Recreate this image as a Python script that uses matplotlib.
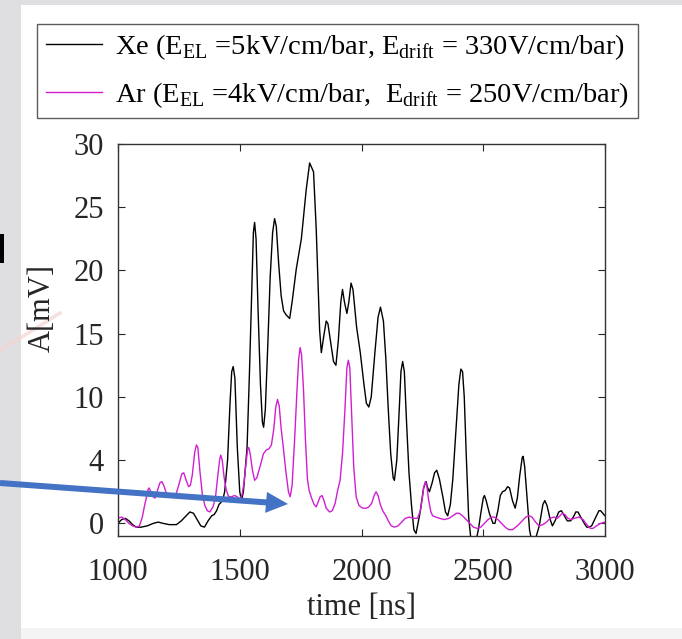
import matplotlib
matplotlib.use("Agg")
import matplotlib.pyplot as plt
from matplotlib.patches import Rectangle, FancyArrow
from matplotlib.lines import Line2D

plt.rcParams['font.family'] = ['Liberation Serif', 'DejaVu Serif']
plt.rcParams['mathtext.fontset'] = 'custom'
plt.rcParams['mathtext.rm'] = 'Liberation Serif'

# ---------------- data ----------------
xe_t = [1000, 1015, 1030, 1045, 1060, 1075, 1095, 1120, 1145, 1165, 1185, 1210, 1240, 1260,
        1280, 1295, 1310, 1325, 1340, 1355, 1370, 1385, 1395, 1405, 1415, 1425, 1432, 1438,
        1450, 1460, 1467, 1473, 1480, 1490, 1500, 1507, 1515, 1530, 1540, 1550, 1556, 1561,
        1567, 1575, 1585, 1593, 1598, 1605, 1615, 1625, 1635, 1643, 1650, 1660, 1670, 1680,
        1690, 1705, 1715, 1732, 1753, 1773, 1787, 1803, 1814, 1828, 1835, 1845, 1855, 1862,
        1872, 1885, 1895, 1905, 1915, 1922, 1930, 1940, 1948, 1957, 1965, 1980, 1995, 2010,
        2020, 2030, 2040, 2055, 2068, 2078, 2090, 2100, 2110, 2120, 2130, 2135, 2145, 2155,
        2162, 2169, 2176, 2185, 2195, 2205, 2215, 2224, 2240, 2255, 2265, 2272, 2279, 2290,
        2300, 2309, 2320, 2335, 2345, 2354, 2365, 2375, 2390, 2400, 2408, 2415, 2422, 2430,
        2440, 2449, 2460, 2470, 2480, 2490, 2500, 2505, 2512, 2525, 2540, 2548, 2560, 2570,
        2579, 2590, 2600, 2608, 2620, 2631, 2640, 2650, 2660, 2664, 2670, 2680, 2690, 2700,
        2715, 2730, 2745, 2753, 2762, 2775, 2784, 2795, 2810, 2821, 2830, 2845, 2859, 2870,
        2880, 2889, 2900, 2915, 2925, 2934, 2945, 2960, 2975, 2982, 2995, 3000]
xe_v = [0.0, 0.3, 0.4, 0.2, -0.1, -0.3, -0.3, -0.2, 0.0, 0.1, 0.0, -0.1, -0.1, 0.2,
        0.6, 0.9, 0.8, 0.3, -0.2, -0.3, 0.2, 0.6, 0.7, 1.0, 1.5, 1.7, 2.0, 2.5,
        5.0, 9.5, 12.0, 12.4, 11.5, 6.0, 2.5, 1.8, 2.5, 6.0, 12.0, 19.0, 23.0, 23.8,
        22.5, 17.0, 11.0, 8.0, 7.6, 9.0, 14.0, 19.5, 23.0, 24.1, 23.5, 20.5, 18.0, 16.8,
        16.5, 16.2, 17.5, 20.1, 22.5, 26.4, 28.5, 27.8, 23.3, 15.3, 13.5, 14.8, 16.0, 15.8,
        14.5, 12.8, 12.5, 14.5, 17.5, 18.5, 17.5, 16.6, 17.5, 19.0, 18.5, 15.5, 13.5, 11.0,
        9.5, 9.2, 10.0, 13.5, 16.3, 17.1, 16.0, 13.0, 9.0, 5.5, 3.6, 3.4, 5.0, 9.0,
        12.0, 12.8, 12.0, 8.0, 4.0, 1.5, -0.5, -0.8, 0.8, 2.8, 3.3, 2.8, 2.5, 3.2,
        4.0, 4.2, 3.5, 2.0, 0.9, 0.6, 1.5, 3.5, 8.0, 11.0, 12.2, 12.0, 10.0, 5.5,
        0.5, -1.2, -1.6, -1.4, -0.5, 0.8, 2.0, 2.2, 1.8, 0.8, 0.0, 0.0, 1.0, 2.2,
        2.5, 2.6, 2.9, 2.8, 1.8, 1.2, 2.0, 3.8, 5.2, 5.3, 4.5, 2.0, -0.5, -1.5,
        -1.2, -0.2, 1.5, 1.8, 1.4, 0.3, -0.2, 0.2, 0.9, 1.0, 0.7, 0.2, 0.2, 0.5,
        0.9, 0.9, 0.5, 0.0, -0.3, -0.3, -0.2, 0.4, 1.0, 1.0, 0.7, 0.6]

ar_t = [1000, 1015, 1030, 1045, 1060, 1075, 1088, 1100, 1108, 1117, 1124, 1128, 1135, 1145,
        1152, 1162, 1172, 1180, 1188, 1200, 1213, 1225, 1240, 1252, 1262, 1270, 1280, 1290,
        1297, 1305, 1315, 1322, 1328, 1337, 1347, 1357, 1367, 1377, 1390, 1400, 1410, 1418,
        1422, 1428, 1436, 1445, 1455, 1465, 1479, 1490, 1500, 1510, 1518, 1526, 1532, 1537,
        1543, 1552, 1561, 1570, 1585, 1597, 1609, 1620, 1630, 1640, 1648, 1655, 1662, 1670,
        1680, 1690, 1700, 1707, 1715, 1725, 1735, 1742, 1748, 1754, 1762, 1770, 1778, 1785,
        1795, 1805, 1814, 1822, 1830, 1838, 1846, 1855, 1869, 1880, 1892, 1902, 1912, 1922,
        1932, 1940, 1946, 1952, 1960, 1968, 1978, 1990, 2005, 2020, 2030, 2042, 2052, 2060,
        2068, 2077, 2087, 2100, 2110, 2122, 2135, 2150, 2165, 2180, 2197, 2212, 2230, 2242,
        2250, 2256, 2262, 2268, 2276, 2285, 2292, 2305, 2320, 2340, 2360, 2375, 2390, 2401,
        2415, 2430, 2445, 2460, 2475, 2490, 2505, 2520, 2535, 2545, 2560, 2575, 2590, 2605,
        2620, 2640, 2660, 2675, 2688, 2700, 2715, 2729, 2745, 2760, 2775, 2791, 2805, 2815,
        2825, 2835, 2848, 2860, 2875, 2893, 2910, 2925, 2940, 2950, 2965, 2982, 3000]
ar_v = [0.4, 0.5, 0.3, 0.0, -0.2, -0.3, -0.2, 0.5, 1.3, 2.1, 2.7, 2.8, 2.5, 2.1,
        2.0, 2.6, 3.2, 3.3, 3.0, 2.3, 2.1, 2.2, 2.4, 3.2, 3.9, 4.0, 3.4, 2.9,
        3.0, 3.8, 5.6, 6.2, 6.0, 4.0, 2.2, 1.4, 1.0, 0.9, 1.3, 2.0, 3.8, 5.1,
        5.4, 5.0, 3.6, 2.6, 2.1, 2.1, 2.2, 2.1, 1.9, 2.3, 3.3, 4.8, 5.8, 6.0,
        5.5, 4.2, 3.4, 3.6, 4.6, 5.5, 5.8, 5.9, 6.2, 7.5, 9.2, 9.8, 9.3, 7.5,
        5.8, 4.0, 2.5, 2.1, 3.0, 6.5, 10.5, 13.0, 13.9, 13.3, 10.5, 6.5, 3.5, 2.6,
        2.0, 1.5, 1.3, 1.7, 2.1, 2.2, 1.8, 1.2, 0.9, 1.0, 1.6, 2.6, 3.4, 5.5,
        9.0, 12.3, 12.9, 12.3, 8.5, 4.5, 2.1, 1.4, 1.2, 1.2, 1.3, 1.6, 2.2, 2.5,
        2.2, 1.5, 1.0, 0.6, 0.2, -0.2, -0.3, -0.2, 0.1, 0.4, 0.5, 0.4, 0.4, 1.0,
        2.0, 2.9, 3.3, 3.0, 1.8, 0.9, 0.6, 0.5, 0.4, 0.3, 0.4, 0.6, 0.8, 0.8,
        0.6, 0.3, 0.0, -0.3, -0.4, -0.3, 0.0, 0.3, 0.5, 0.5, 0.3, 0.0, -0.3, -0.5,
        -0.5, -0.2, 0.2, 0.5, 0.6, 0.5, 0.1, -0.2, -0.1, 0.1, 0.4, 0.5, 0.4, 0.6,
        0.8, 0.7, 0.4, 0.3, 0.4, 0.5, 0.3, -0.1, -0.4, -0.4, -0.2, 0.0, 0.1]

xticks = [1000, 1500, 2000, 2500, 3000]
yticks = [0, 5, 10, 15, 20, 25, 30]
ytick_labels = ['0', '4', '10', '15', '20', '25', '30']
xe_label = r'Xe (E$_{\mathrm{EL}}$ =5kV/cm/bar, E$_{\mathrm{drift}}$ = 330V/cm/bar)'
ar_label = r'Ar (E$_{\mathrm{EL}}$ =4kV/cm/bar,  E$_{\mathrm{drift}}$ = 250V/cm/bar)'

# ---------------- figure ----------------
W, H = 682, 639
fig = plt.figure(figsize=(W / 100, H / 100), dpi=100)
fig.patch.set_facecolor('#dfdfe1')

def px(x, y):
    return x / W, 1 - y / H

# white slide panel (behind everything)
fig.patches.append(Rectangle(px(21, 628), (W - 21) / W, (628 - 5) / H,
                             transform=fig.transFigure, facecolor='white',
                             edgecolor='none', zorder=-10))
fig.patches.append(Rectangle(px(21, H), (W - 21) / W, (H - 628) / H,
                             transform=fig.transFigure, facecolor='#f4f4f5',
                             edgecolor='none', zorder=-10))
# faint pink line and partial glyph in background
fig.lines.append(Line2D([0, 22 / W, 60 / W], [1 - 350 / H, 1 - 337 / H, 1 - 313 / H],
                        transform=fig.transFigure, color='#f6d2d2', lw=2.5, alpha=0.7, zorder=-9))
fig.patches.append(Rectangle(px(0, 263), 4 / W, 29 / H, transform=fig.transFigure,
                             facecolor='black', edgecolor='none', zorder=-9))

ax = fig.add_axes([118 / W, 1 - 536 / H, (605 - 118) / W, (536 - 144) / H])
ax.set_zorder(1)
ax.plot(xe_t, xe_v, color='black', lw=1.0, label=xe_label)
ax.plot(ar_t, ar_v, color='#d21ed2', lw=1.0, label=ar_label)
ax.set_xlim(1000, 3000)
ax.set_ylim(-1, 30)
ax.set_xticks(xticks)
ax.set_xticklabels([str(v) for v in xticks])
ax.set_yticks(yticks)
ax.set_yticklabels(ytick_labels)
ax.tick_params(direction='in', top=True, right=True, length=5, width=0.8,
               labelsize=22, colors='#262626')
ax.tick_params(axis='x', pad=16)
ax.tick_params(axis='y', pad=10)
for s in ax.spines.values():
    s.set_color('#333333')
    s.set_linewidth(1.0)

ax.set_xlabel('time [ns]', fontsize=22, color='#262626', labelpad=4)
ax.set_ylabel('A[mV]', fontsize=22, color='#262626')
ax.yaxis.set_label_coords((42 - 118) / (605 - 118), (536 - 308) / (536 - 144))
ax.yaxis.label.set_va('center')

leg = fig.legend(loc='upper left', bbox_to_anchor=px(37, 24), borderaxespad=0,
                 fontsize=20.5, frameon=True, fancybox=False, edgecolor='#333333',
                 handlelength=2.0, handletextpad=0.45, borderpad=0.3, labelspacing=0.62)
leg.get_frame().set_linewidth(1.0)
leg.set_zorder(3)

# blue arrow overlay
fig.patches.append(FancyArrow(0, 1 - 483 / H, 288 / W, -21 / H, width=6 / H,
                              head_width=21 / H, head_length=22 / W,
                              length_includes_head=True, transform=fig.transFigure,
                              facecolor='#4472c4', edgecolor='none', zorder=5))

fig.savefig('out.png', dpi=100, facecolor=fig.get_facecolor())
